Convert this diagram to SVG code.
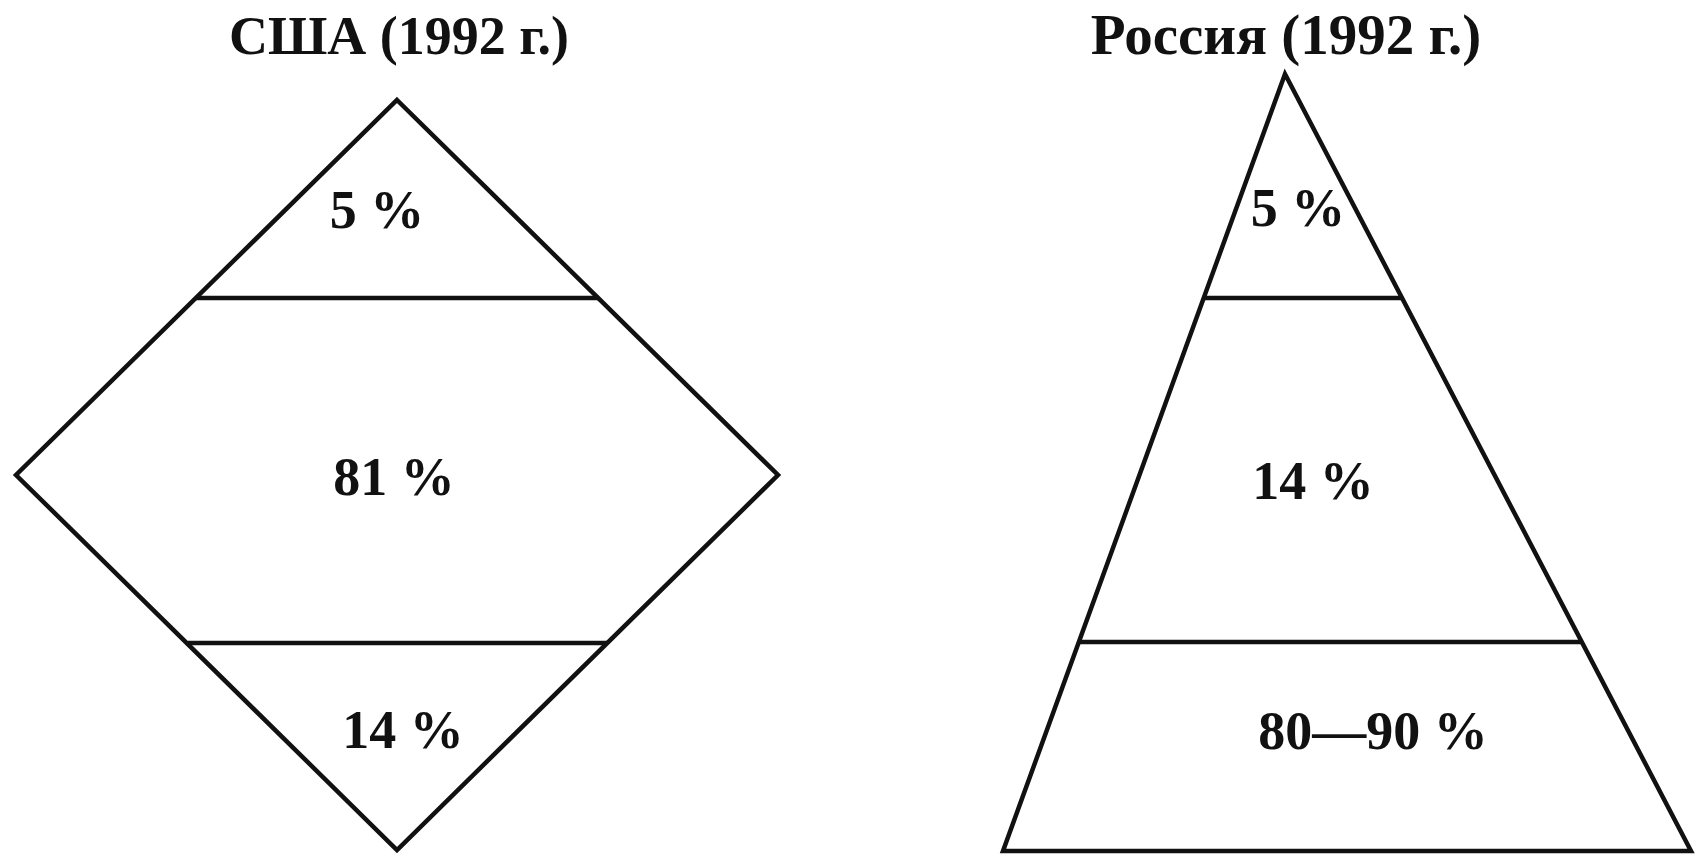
<svg xmlns="http://www.w3.org/2000/svg" width="1700" height="857" viewBox="0 0 1700 857">
<style>
.shape{fill:none;stroke:#111;stroke-width:4.5;stroke-linejoin:miter}
.title{font-family:"Liberation Serif","Times New Roman",serif;font-weight:bold;font-size:56px;fill:#111;text-anchor:middle}
.lbl{font-family:"Liberation Serif","Times New Roman",serif;font-weight:bold;font-size:54px;fill:#111;text-anchor:middle}
</style>
<rect width="1700" height="857" fill="#fff"/>
<g id="usa">
<text class="title" x="399" y="54" style="font-size:54px">США (1992 г.)</text>
<polygon class="shape" points="397,100 778,475 397,850 16,475"/>
<line class="shape" x1="196" y1="298" x2="599" y2="298"/>
<line class="shape" x1="188" y1="643" x2="607" y2="643"/>
<text class="lbl" x="377" y="228">5 %</text>
<text class="lbl" x="394" y="495">81 %</text>
<text class="lbl" x="403" y="748">14 %</text>
</g>
<g id="russia">
<text class="title" x="1286" y="54" style="font-size:57px">Россия (1992 г.)</text>
<polygon class="shape" points="1285,74 1691,851 1003,851"/>
<line class="shape" x1="1204" y1="298" x2="1402" y2="298"/>
<line class="shape" x1="1079" y1="642" x2="1582" y2="642"/>
<text class="lbl" x="1298" y="226">5 %</text>
<text class="lbl" x="1313" y="499">14 %</text>
<text class="lbl" x="1373" y="749">80—90 %</text>
</g>
<g id="connectors"/>
</svg>
